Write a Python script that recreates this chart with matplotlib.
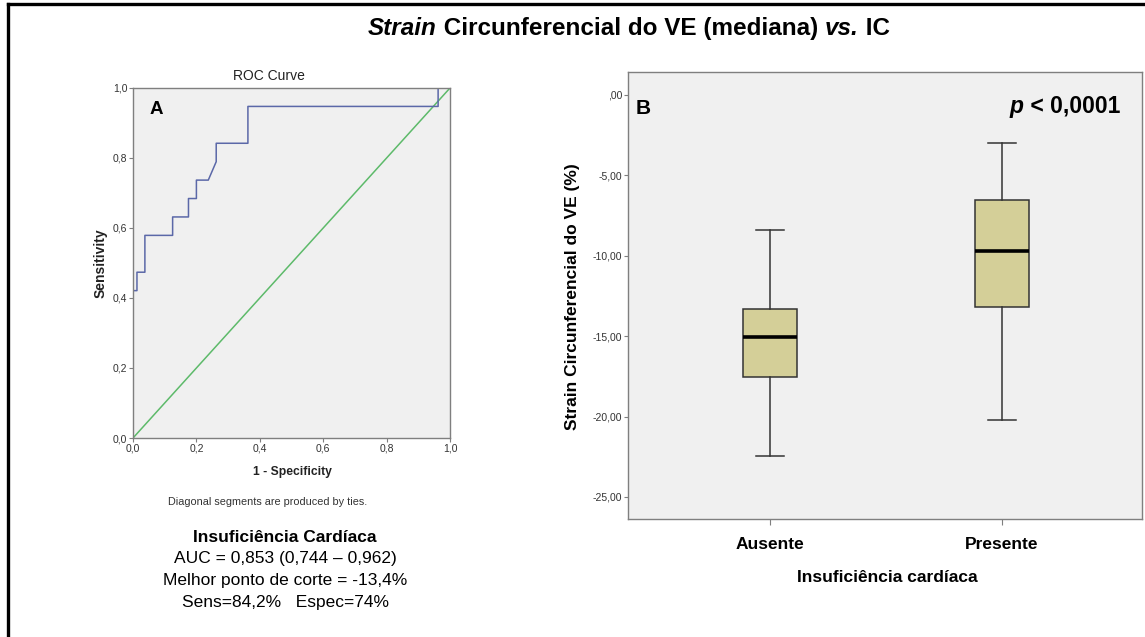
import matplotlib
matplotlib.use("Agg")
import matplotlib.pyplot as plt
import numpy as np

plt.rcParams['font.family'] = ['Liberation Sans', 'DejaVu Sans']

W, H = 1145, 637

# ROC curve (1 - specificity, sensitivity), 80 negatives / 19 positives
roc_fpr = [0, 0, 1/80, 1/80, 3/80, 3/80, 10/80, 10/80, 14/80, 14/80, 16/80, 16/80,
           19/80, 21/80, 21/80, 29/80, 29/80, 77/80, 77/80, 1]
roc_tpr = [0, 8/19, 8/19, 9/19, 9/19, 11/19, 11/19, 12/19, 12/19, 13/19, 13/19, 14/19,
           14/19, 15/19, 16/19, 16/19, 18/19, 18/19, 1, 1]
roc_ticks = [0.0, 0.2, 0.4, 0.6, 0.8, 1.0]
roc_ticklabels = ["0,0", "0,2", "0,4", "0,6", "0,8", "1,0"]

# box plot
groups = ["Ausente", "Presente"]
whisker_low = [-22.45, -20.2]
q1 = [-17.53, -13.2]
median = [-15.06, -9.73]
q3 = [-13.34, -6.56]
whisker_high = [-8.38, -3.01]
b_ticks = [0, -5, -10, -15, -20, -25]
b_ticklabels = [",00", "-5,00", "-10,00", "-15,00", "-20,00", "-25,00"]

info_lines = ["AUC = 0,853 (0,744 \u2013 0,962)", "Melhor ponto de corte = -13,4%",
              "Sens=84,2%   Espec=74%"]


def px_rect(x0, y0, x1, y1):
    return [x0 / W, 1 - y1 / H, (x1 - x0) / W, (y1 - y0) / H]


def fx(x):
    return x / W


def fy(y):
    return 1 - y / H


fig = plt.figure(figsize=(W / 100, H / 100), dpi=100)
spine_col = "#7f7f7f"
bg = "#f0f0f0"

# ---- panel A: ROC
axA = fig.add_axes(px_rect(133, 88, 450, 438))
axA.set_facecolor(bg)
axA.plot([0, 1], [0, 1], color="#5dba6a", lw=1.1)
axA.plot(roc_fpr, roc_tpr, color="#5b68a8", lw=1.1)
axA.set_xlim(0, 1)
axA.set_ylim(0, 1)
axA.set_xticks(roc_ticks)
axA.set_xticklabels(roc_ticklabels)
axA.set_yticks(roc_ticks)
axA.set_yticklabels(roc_ticklabels)
axA.tick_params(labelsize=7.5, length=3, width=0.8, color=spine_col, pad=1, labelcolor="#333333")
for s in axA.spines.values():
    s.set_color(spine_col)
    s.set_linewidth(1.0)
fig.text(fx(150), fy(110), "A", fontsize=13.5, fontweight="bold", va="center", ha="left")

fig.text(fx(269), fy(76), "ROC Curve", fontsize=10, ha="center", va="center", color="#222222")
fig.text(fx(101), fy(263), "Sensitivity", fontsize=10, fontweight="bold", rotation=90,
         ha="center", va="center", color="#222222")
fig.text(fx(292), fy(472), "1 - Specificity", fontsize=8.7, fontweight="bold",
         ha="center", va="center", color="#222222")
fig.text(fx(268), fy(502), "Diagonal segments are produced by ties.", fontsize=7.8,
         ha="center", va="center", color="#333333")
fig.text(fx(285), fy(538), "Insuficiência Cardíaca", fontsize=12.5, fontweight="bold",
         ha="center", va="center")
for i, line in enumerate(info_lines):
    fig.text(fx(285), fy(558 + 22 * i), line, fontsize=12.5, ha="center", va="center")

# ---- panel B: box plot
axB = fig.add_axes(px_rect(628, 72, 1142, 519))
axB.set_facecolor(bg)
stats = []
for i, g in enumerate(groups):
    stats.append(dict(label=g, whislo=whisker_low[i], q1=q1[i], med=median[i],
                      q3=q3[i], whishi=whisker_high[i], fliers=[]))
axB.bxp(stats, positions=[1, 2], widths=0.235, patch_artist=True, showfliers=False,
        boxprops=dict(facecolor="#d4cf98", edgecolor="#333333", linewidth=1.1),
        medianprops=dict(color="black", linewidth=2.6),
        whiskerprops=dict(color="#333333", linewidth=1.1),
        capprops=dict(color="#333333", linewidth=1.1), capwidths=0.12)
axB.set_xlim(0.388, 2.603)
axB.set_ylim(-26.37, 1.43)
axB.set_yticks(b_ticks)
axB.set_yticklabels(b_ticklabels)
axB.tick_params(axis="y", labelsize=7.5, length=3, width=0.8, color=spine_col, pad=1,
                labelcolor="#333333")
axB.tick_params(axis="x", labelsize=12.5, length=4, width=0.8, color=spine_col, pad=9)
for lab in axB.get_xticklabels():
    lab.set_fontweight("bold")
for s in axB.spines.values():
    s.set_color(spine_col)
    s.set_linewidth(1.0)
fig.text(fx(636), fy(108), "B", fontsize=15, fontweight="bold", ha="left", va="center")
fig.text(fx(887), fy(578), "Insuficiência cardíaca", fontsize=12.5, fontweight="bold",
         ha="center", va="center")
fig.text(fx(572), fy(297), "Strain Circunferencial do VE (%)", fontsize=12.5,
         fontweight="bold", rotation=90, ha="center", va="center")

fig.canvas.draw()
renderer = fig.canvas.get_renderer()


def pieces_width(pieces, size):
    total = 0
    for txt, style in pieces:
        t = fig.text(0, 0, txt, fontsize=size, fontweight="bold", style=style)
        total += t.get_window_extent(renderer).width
        t.remove()
    return total


def place_pieces(pieces, x_left, y_px, size):
    x = x_left
    for txt, style in pieces:
        t = fig.text(fx(x), fy(y_px), txt, fontsize=size, fontweight="bold", style=style,
                     ha="left", va="baseline")
        x += t.get_window_extent(renderer).width


p_pieces = [("p", "italic"), (" < 0,0001", "normal")]
pw = pieces_width(p_pieces, 16.5)
place_pieces(p_pieces, 1120 - pw, 113, 16.5)

title_pieces = [("Strain", "italic"), (" Circunferencial do VE (mediana) ", "normal"),
                ("vs.", "italic"), (" IC", "normal")]
tw = pieces_width(title_pieces, 17.5)
place_pieces(title_pieces, 629 - tw / 2, 35, 17.5)

# outer frame lines (left and top)
fig.add_artist(plt.Line2D([fx(8), fx(8)], [fy(4), 0], color="black", lw=2.4))
fig.add_artist(plt.Line2D([fx(8), 1], [fy(4), fy(4)], color="black", lw=2.4))

fig.savefig("out.png", dpi=100)
